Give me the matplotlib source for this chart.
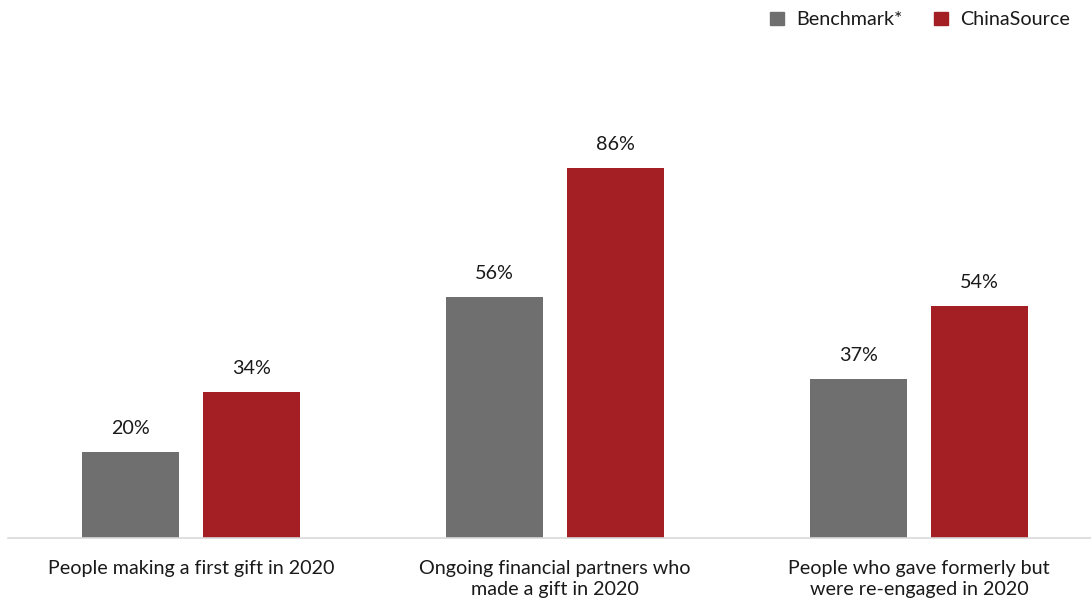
import matplotlib.pyplot as plt
from matplotlib.patches import Patch
import numpy as np

plt.rcParams['font.family'] = ['Lato', 'DejaVu Sans']

categories = ['People making a first gift in 2020',
              'Ongoing financial partners who\nmade a gift in 2020',
              'People who gave formerly but\nwere re-engaged in 2020']
benchmark = [20, 56, 37]
chinasource = [34, 86, 54]

gray = '#6F6F6F'
red = '#A31F24'

fig = plt.figure(figsize=(10.91, 6.07), dpi=100)
ax = fig.add_axes([8 / 1091, 69 / 607, 1083 / 1091, 430 / 607])

x = np.arange(len(categories))
w = 0.2665
off = 0.166
b1 = ax.bar(x - off, benchmark, w, color=gray)
b2 = ax.bar(x + off, chinasource, w, color=red)

# value labels above each bar
for bars, vals in [(b1, benchmark), (b2, chinasource)]:
    for bar, v in zip(bars, vals):
        ax.annotate(f'{v}%', (bar.get_x() + bar.get_width() / 2, v),
                    xytext=(0, 17), textcoords='offset points',
                    ha='center', va='center', fontsize=14.2, color='#1a1a1a')

ax.set_xlim(-183 / 364, 900 / 364)
ax.set_ylim(0, 100)
ax.set_xticks(x)
ax.set_xticklabels(categories, fontsize=14.2, color='#1a1a1a', linespacing=1.3)
ax.tick_params(axis='x', length=0, pad=16)
ax.set_yticks([])
for s in ['top', 'right', 'left']:
    ax.spines[s].set_visible(False)
ax.spines['bottom'].set_color('#D9D9D9')
ax.spines['bottom'].set_linewidth(1.2)

handles = [Patch(color=gray, label='Benchmark*'), Patch(color=red, label='ChinaSource')]
fig.legend(handles=handles, loc='upper right', bbox_to_anchor=(0.993, 1.004),
           ncol=2, frameon=False, fontsize=14.2, handlelength=0.7, handleheight=0.7,
           handletextpad=0.6, columnspacing=1.6, borderaxespad=0.3,
           labelcolor='#1a1a1a')

fig.savefig('out.png', dpi=100)
